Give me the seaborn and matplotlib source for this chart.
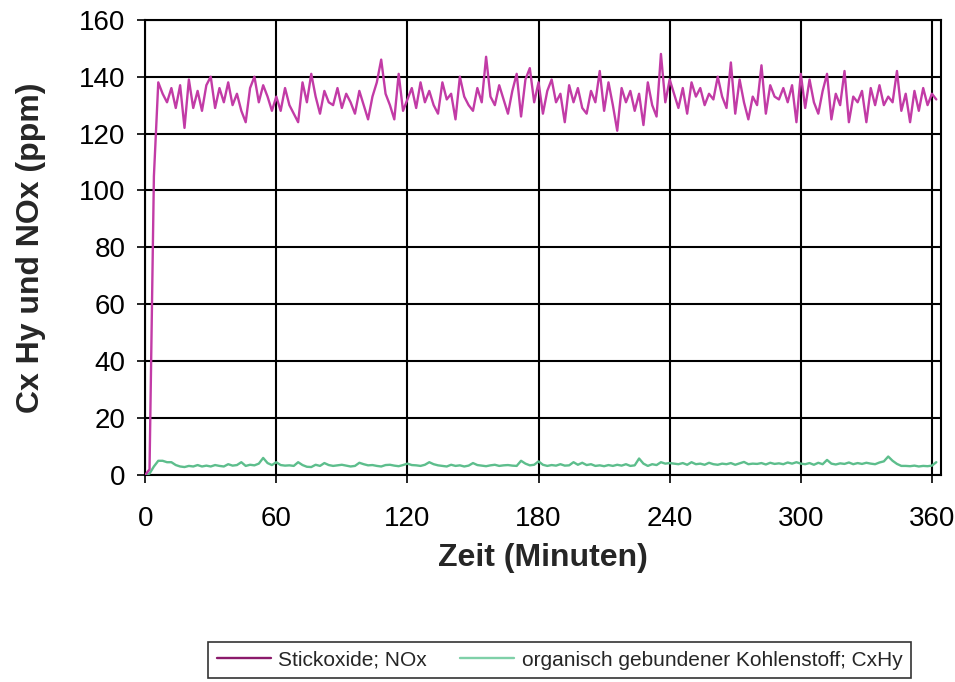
import matplotlib
matplotlib.use("Agg")
import matplotlib.pyplot as plt
import seaborn as sns
import pandas as pd

# ---- data ----
minutes = list(range(0, 364, 2))

nox = [
    0, 2, 105, 138, 134, 131, 136, 129, 137, 122, 139, 129, 135, 128, 137, 140, 129, 136, 131, 138, 130, 134, 128, 124, 136, 140, 131, 137, 133, 128,
    133, 128, 136, 130, 127, 124, 138, 131, 141, 133, 127, 135, 131, 130, 136, 129, 134, 131, 127, 135, 130, 125, 133, 138, 146, 134, 130, 125, 141, 128,
    132, 136, 129, 138, 131, 135, 130, 127, 138, 132, 134, 125, 140, 133, 130, 128, 136, 131, 147, 133, 130, 137, 132, 127, 135, 141, 126, 139, 143, 131,
    138, 127, 135, 139, 131, 134, 124, 137, 131, 136, 129, 127, 135, 131, 142, 128, 138, 130, 121, 136, 131, 135, 128, 134, 123, 138, 130, 126, 148, 131,
    139, 134, 129, 136, 127, 138, 133, 136, 130, 134, 132, 140, 133, 129, 145, 127, 139, 131, 125, 133, 130, 144, 127, 137, 133, 132, 136, 131, 137, 124,
    141, 129, 139, 131, 127, 135, 141, 125, 134, 130, 142, 124, 133, 131, 135, 124, 136, 130, 137, 130, 133, 131, 142, 128, 134, 124, 135, 128, 136, 130, 134, 132,
]

cxhy = [
    0, 0.5, 3, 5, 5, 4.5, 4.5, 3.5, 3, 2.8, 3.2, 3, 3.5, 3, 3.3, 3, 3.5, 3.2, 3, 3.8, 3.3, 3.5, 4.5, 3.2, 3.6, 3.4, 4, 6, 4.2, 3.5,
    4.5, 3.5, 3.3, 3.4, 3.2, 4.5, 3.5, 2.9, 2.8, 3.6, 3.2, 4.2, 3.5, 3.2, 3.4, 3.6, 3.3, 3, 3.2, 4.3, 3.8, 3.4, 3.5, 3.2, 3, 3.5, 3.6, 3.3, 3.1, 3.5,
    4, 3.5, 3.4, 3.2, 3.6, 4.5, 3.8, 3.4, 3.2, 3, 3.6, 3.2, 3.4, 3, 3.3, 4.2, 3.5, 3.3, 3.1, 3.4, 3.6, 3.2, 3.4, 3.5, 3.3, 3.2, 5, 4, 3.4, 3.6,
    4.8, 3.6, 3.2, 3.5, 3.3, 3.8, 3.3, 3.4, 4.5, 3.6, 4.3, 3.5, 3.8, 3.2, 3.4, 3.1, 3.5, 3.2, 3.6, 3.3, 3.8, 3.2, 3.4, 5.8, 4, 3.2, 3.8, 3.5, 4.5, 4,
    4.2, 4, 3.8, 4.2, 3.6, 4.5, 3.8, 4, 3.6, 4.3, 3.8, 3.6, 4, 3.8, 4.2, 3.6, 4.1, 4.6, 3.8, 4, 3.9, 4.2, 3.7, 4.3, 3.9, 4.1, 3.8, 4.4, 4, 4.5,
    4, 3.8, 4.2, 3.6, 4.3, 3.8, 5.3, 4, 3.7, 4.1, 3.9, 4.4, 3.8, 4.2, 3.9, 4.3, 4, 3.8, 4.4, 4.8, 6.5, 5, 3.9, 3.2, 3.2, 3.1, 3.3, 3, 3.2, 3.1, 3.3, 4.5,
]

xticks = [0, 60, 120, 180, 240, 300, 360]
yticks = [0, 20, 40, 60, 80, 100, 120, 140, 160]
label_nox = "Stickoxide; NOx"
label_cxhy = "organisch gebundener Kohlenstoff; CxHy"

df = pd.DataFrame({"Zeit": minutes, "NOx": nox, "CxHy": cxhy})

sns.set_style("white")
plt.rcParams["font.family"] = ["Liberation Sans", "DejaVu Sans"]

fig = plt.figure(figsize=(9.55, 6.82), dpi=100)
ax = fig.add_axes([0.152, 0.3035, 0.833, 0.6675])

sns.lineplot(data=df, x="Zeit", y="CxHy", ax=ax, color="#5DBE8C", linewidth=1.7,
             label=label_cxhy, zorder=3)
sns.lineplot(data=df, x="Zeit", y="NOx", ax=ax, color="#C23BA6", linewidth=1.7,
             label=label_nox, zorder=4)

ax.set_xlim(0, 364)
ax.set_ylim(0, 160)
ax.set_xticks(xticks)
ax.set_yticks(yticks)
ax.grid(True, color="black", linewidth=1.5)
ax.set_axisbelow(True)
for s in ax.spines.values():
    s.set_color("black")
    s.set_linewidth(1.5)
ax.tick_params(axis="both", labelsize=20, colors="black", direction="out",
               length=6, width=1.2, left=True, bottom=True)
ax.tick_params(axis="x", pad=16)
ax.tick_params(axis="y", pad=8)
ax.set_xlabel("Zeit (Minuten)", fontsize=23, fontweight="bold", labelpad=8)
ax.set_ylabel("Cx Hy und NOx (ppm)", fontsize=23, fontweight="bold", labelpad=24)

ax.get_legend().remove()
handles, labels = ax.get_legend_handles_labels()
order = [1, 0]
leg = fig.legend([handles[i] for i in order], [labels[i] for i in order],
                 loc="center", bbox_to_anchor=(0.586, 0.032),
                 ncol=2, frameon=True, fancybox=False,
                 edgecolor="black", fontsize=15, handlelength=2.6,
                 borderaxespad=0, handletextpad=0.35, columnspacing=1.6,
                 borderpad=0.4)
leg.get_frame().set_linewidth(1.2)
leg.legend_handles[0].set_color("#8B1A6B")
leg.legend_handles[1].set_color("#7FD0A8")

fig.savefig("out.png", dpi=100)
